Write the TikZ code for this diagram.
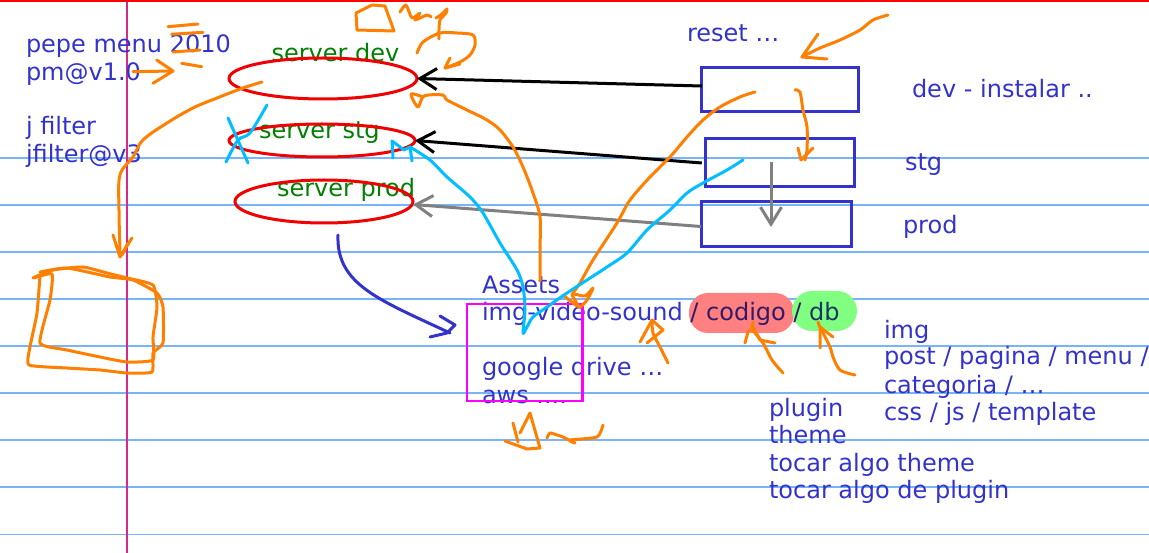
\documentclass[tikz,border=0pt]{standalone}
\usepackage{fontspec}
\setmainfont{DejaVu Sans}
\usetikzlibrary{shapes.geometric,arrows.meta}
\definecolor{txtblue}{RGB}{51,51,204}
\definecolor{srvgreen}{RGB}{0,128,0}
\definecolor{ellred}{RGB}{240,0,0}
\definecolor{pen}{RGB}{255,128,0}
\definecolor{sky}{RGB}{0,190,255}
\definecolor{rulecol}{RGB}{120,180,250}
\definecolor{margincol}{RGB}{215,40,140}
\definecolor{hlred}{RGB}{255,128,128}
\definecolor{hlgreen}{RGB}{128,255,128}
\definecolor{onred}{RGB}{51,25,102}
\definecolor{ongreen}{RGB}{25,51,102}
\definecolor{boxmag}{RGB}{255,0,255}
\definecolor{arrgray}{RGB}{128,128,128}
\begin{document}
\begin{tikzpicture}[x=1pt,y=-1pt,
 every node/.style={inner sep=0pt, outer sep=0pt, anchor=base west, font=\fontsize{24}{28}\selectfont},
 note/.style={text=txtblue},
 srv/.style={text=srvgreen},
 srvell/.style={ellipse, draw=ellred, line width=3pt, anchor=center},
 envbox/.style={rectangle, draw=txtblue, line width=3pt, anchor=center},
 push/.style={line width=3pt, -{Straight Barb[length=17pt,width=21pt]}},
 penline/.style={draw=pen, line width=3pt, line cap=round, line join=round},
 skyline/.style={draw=sky, line width=3pt, line cap=round, line join=round},
 bluepen/.style={draw=txtblue, line width=3pt, line cap=round, line join=round},
]
\useasboundingbox (0,0) rectangle (1149,553);
\fill[white] (0,0) rectangle (1149,553);
% ruled paper
\foreach \yy in {158,205,252,299,346,393,440,487,534.5}
  \draw[rulecol, line width=1.3pt] (0,\yy) -- (1149,\yy);
\draw[margincol, line width=1.2pt] (127,0) -- (127,553);
\draw[red, line width=1.8pt] (0,0.9) -- (1149,0.9);

% highlights
\fill[hlred, rounded corners=19pt] (689,293) rectangle (794,333);
\fill[hlgreen, rounded corners=20pt] (792,291) rectangle (857,331);

% texts
\node[note] (t1) at (26,53) {pepe menu 2010};
\node[note] (t2) at (26,81) {pm@v1.0};
\node[note] (t3) at (26,135) {j filter};
\node[note] (t4) at (26,163) {jfilter@v3};

\node[srv] (sdev) at (271.5,62) {server dev};
\node[srv] (sstg) at (259,139) {server stg};
\node[srv] (sprod) at (277,197) {server prod};

\node[note] (reset) at (687,42) {reset \dots};
\node[note] (ldev) at (912,98) {dev - instalar ..};
\node[note] (lstg) at (905,171) {stg};
\node[note] (lprod) at (903,234) {prod};

\node[note] (a1) at (482,294) {Assets};
\node[note] (a2) at (482,321) {img-video-sound {\color{onred}/ codigo /} {\color{ongreen}db}};
\node[note] (a3) at (482,376) {google drive \dots};
\node[note] (a4) at (482,403) {aws ....};

\node[note] (p1) at (769,416) {plugin};
\node[note] (p2) at (769,443) {theme};
\node[note] (p3) at (769,471) {tocar algo theme};
\node[note] (p4) at (769,498) {tocar algo de plugin};

\node[note] (d1) at (884,339) {img};
\node[note] (d2) at (884,365) {post / pagina / menu /};
\node[note] (d3) at (884,393) {categoria / \dots};
\node[note] (d4) at (884,420) {css / js / template};

% servers
\node[srvell, minimum width=188pt, minimum height=41pt] (edev) at (323,78.5) {};
\node[srvell, minimum width=186pt, minimum height=33pt] (estg) at (322,140.5) {};
\node[srvell, minimum width=178pt, minimum height=43pt] (eprod) at (324,201.5) {};

% environment boxes
\node[envbox, minimum width=157pt, minimum height=44pt] (bdev) at (780.3,90) {};
\node[envbox, minimum width=149pt, minimum height=48pt] (bstg) at (780.3,163) {};
\node[envbox, minimum width=150pt, minimum height=45pt] (bprod) at (776,224.5) {};

% assets box
\node[rectangle, draw=boxmag, line width=2.8pt, anchor=center, minimum width=115.5pt, minimum height=97pt] (assetbox) at (524.8,352.5) {};

% deploy arrows
\draw[push, black] ([yshift=4pt]bdev.west) -- (edev.east);
\draw[push, black] ([xshift=-4pt]bstg.west) -- (estg.east);
\draw[push, arrgray] ([yshift=-2pt]bprod.west) -- ([yshift=-3pt]eprod.east);
\coordinate (g1) at (771,162);
\coordinate (g2) at (771,227);
\draw[push, arrgray] (g1) -- (g2);

% blue hand arrow prod -> assets
\coordinate (bl1) at (338,235);
\coordinate (bl2) at (450,333);
\draw[bluepen] (bl1) .. controls (336,285) and (380,300) .. (bl2);
\draw[bluepen] (440,316) -- (455,325) -- (447,333) -- (430,337);

% ---- orange pen strokes ----
\draw[penline] (168,26.7) -- (198,24);
\draw[penline] (171.7,34.3) -- (203,32.3);
\draw[penline] (173,52) -- (200,50);
\draw[penline] (181.7,63.3) -- (201.7,66.7);
\draw[penline] (133,71.7) -- (173,71);
\draw[penline] (156.7,60) -- (173,71) -- (153,83.3);
\draw[penline] plot[smooth, tension=0.6] coordinates {(262,82) (243,88) (217,98) (193,108) (167,123) (143,140) (133,157) (120,175) (119,210) (120,250)};
\draw[penline] (113,235) -- (120,257) -- (132,238);
\draw[penline] (116,245) -- (122,255) -- (128,243);
\draw[penline] plot[smooth cycle, tension=0.3] coordinates {(33,278) (53,270) (83,267) (107,273) (127,278) (153,285) (157,307) (153,337) (153,360) (127,362) (100,357) (67,350) (40,343) (50,300) (52,274)};
\draw[penline] plot[smooth, tension=0.3] coordinates {(40,275) (37,313) (30,347) (29,365) (67,368) (100,370) (127,373) (152,372) (153,353) (163,343) (163,307) (157,293) (133,280) (110,277) (67,268) (40,272)};
\draw[penline] (356,13) -- (372,5) -- (385,6) -- (394,31) -- (357,30) -- cycle;
\draw[penline] plot[smooth, tension=0.4] coordinates {(400,12) (406,5) (412,18) (420,13) (415,20) (427,15) (431,17)};
\draw[penline] plot[smooth, tension=0.4] coordinates {(436,18) (442,14) (447,9) (446,13) (440,20) (439,30) (439,39)};
\draw[penline] plot[smooth, tension=0.5] coordinates {(417,53) (423,42) (440,33) (457,33) (473,35) (475,45) (470,55) (460,62) (445,68)};
\draw[penline] (450,58) -- (445,68) -- (460,64);
\draw[penline] plot[smooth, tension=0.5] coordinates {(423,97) (411,94) (418,107) (424,96) (443,95) (447,100) (467,110) (487,120) (500,130) (513,147) (523,167) (533,193) (540,217) (540,250) (540,281)};
\draw[penline] plot[smooth, tension=0.5] coordinates {(573,293) (580,283) (593,260) (617,223) (630,200) (650,177) (670,157) (687,137) (703,120) (720,107) (740,97) (755,92)};
\draw[penline] plot[smooth, tension=0.4] coordinates {(563,295) (573,303) (580,307) (587,300) (593,288) (585,296) (572,294) (578,305)};
\draw[penline] plot[smooth, tension=0.5] coordinates {(795,90) (800,92) (803,110) (807,127) (807,150) (805,160)};
\draw[penline] (798,148) -- (801,160) -- (813,148);
\draw[penline] plot[smooth, tension=0.5] coordinates {(888,15) (873,20) (860,30) (840,40) (820,48) (802,57)};
\draw[penline] (818,34) -- (802,57) -- (827,59);
\draw[penline] plot[smooth, tension=0.5] coordinates {(668,363) (660,347) (653,333) (652,320)};
\draw[penline] (640,342) -- (652,320) -- (663,330) -- (647,343);
\draw[penline] plot[smooth, tension=0.5] coordinates {(783,373) (772,360) (763,343) (753,330) (753,322)};
\draw[penline] (745,343) -- (748,332) -- (753,327) -- (760,340) -- (775,343);
\draw[penline] plot[smooth, tension=0.5] coordinates {(855,375) (840,370) (833,357) (830,347) (820,327) (818,322)};
\draw[penline] (820,348) -- (820,327) -- (833,337);
\draw[penline] (513,423) -- (518,442);
\draw[penline] (520,433) -- (530,413) -- (540,448) -- (527,449) -- (505,441);
\draw[penline] plot[smooth, tension=0.4] coordinates {(547,438) (550,433) (557,435) (563,437) (575,443) (570,440) (597,437) (603,425)};

% ---- cyan pen strokes ----
\draw[skyline] (228,118) -- (248,163);
\draw[skyline] plot[smooth, tension=0.5] coordinates {(267,105) (250,133) (238,140) (226,162)};
\draw[skyline] (393,158) -- (392,141) -- (404,150) -- (410,147) -- (412,161);
\draw[skyline] plot[smooth, tension=0.5] coordinates {(410,147) (430,160) (447,177) (470,197) (483,213) (500,243) (517,270) (523,287) (525,310) (523,333) (527,327) (533,317) (547,307) (567,293) (587,280) (607,267) (627,253) (647,230) (670,210) (687,193) (703,183) (727,170) (743,160)};
\end{tikzpicture}
\end{document}
